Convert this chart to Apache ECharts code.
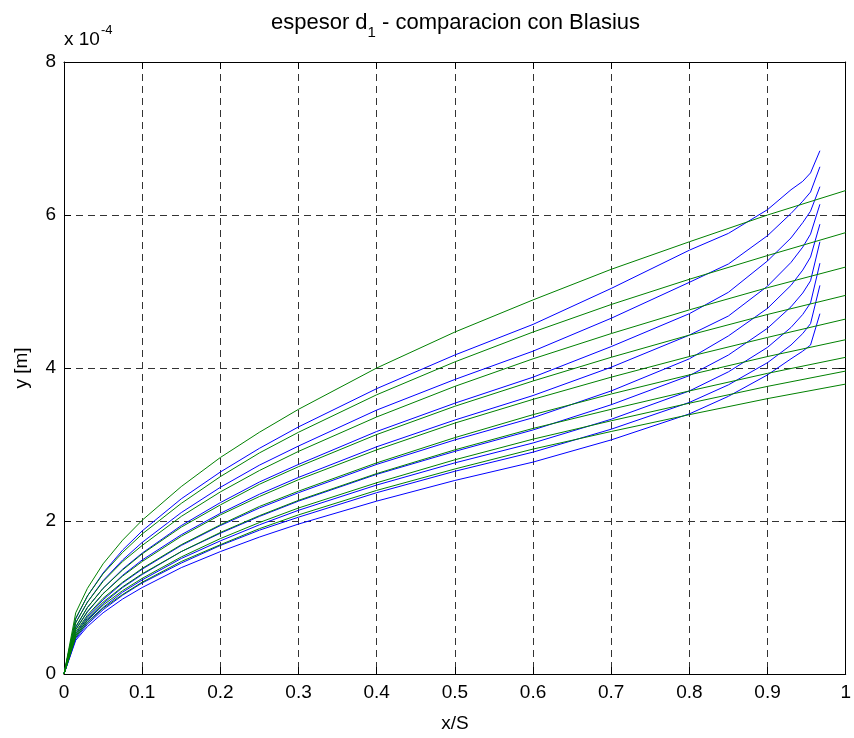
<!DOCTYPE html>
<html>
<head>
<meta charset="utf-8">
<script src="https://cdn.jsdelivr.net/npm/echarts@6/dist/echarts.min.js"></script>
<style>
  html, body { margin: 0; padding: 0; background: #ffffff; }
  #chart { width: 854px; height: 738px; }
</style>
</head>
<body>
<div id="chart"></div>
<script>
// Boundary-layer displacement thickness d1 (units of 1e-4 m) along the plate x/S.
// Computed profiles (blue) stop at x/S = 0.967; Blasius solutions (green) run to 1.
const xComputed = [0, 0.015, 0.03, 0.05, 0.075, 0.1, 0.15, 0.2, 0.25, 0.3, 0.4, 0.5, 0.6, 0.7, 0.8, 0.85, 0.9, 0.93, 0.945, 0.955, 0.967];
const computed1 = [0, 0.72, 1.02, 1.32, 1.62, 1.87, 2.29, 2.64, 2.95, 3.23, 3.73, 4.17, 4.57, 5.04, 5.54, 5.76, 6.07, 6.33, 6.44, 6.55, 6.84];
const computed2 = [0, 0.67, 0.94, 1.22, 1.49, 1.72, 2.11, 2.44, 2.73, 2.98, 3.45, 3.85, 4.22, 4.65, 5.12, 5.36, 5.73, 6.02, 6.18, 6.30, 6.63];
const computed3 = [0, 0.61, 0.87, 1.12, 1.37, 1.58, 1.94, 2.24, 2.51, 2.74, 3.17, 3.54, 3.88, 4.28, 4.71, 4.99, 5.40, 5.70, 5.90, 6.05, 6.37];
const computed4 = [0, 0.58, 0.81, 1.05, 1.29, 1.49, 1.82, 2.10, 2.35, 2.57, 2.97, 3.32, 3.64, 4.01, 4.43, 4.68, 5.07, 5.38, 5.58, 5.75, 6.14];
const computed5 = [0, 0.53, 0.75, 0.97, 1.19, 1.37, 1.68, 1.94, 2.17, 2.37, 2.74, 3.06, 3.35, 3.70, 4.12, 4.42, 4.78, 5.08, 5.28, 5.45, 5.88];
const computed6 = [0, 0.50, 0.71, 0.92, 1.13, 1.30, 1.60, 1.84, 2.06, 2.26, 2.61, 2.91, 3.19, 3.52, 3.90, 4.17, 4.52, 4.80, 4.98, 5.14, 5.65];
const computed7 = [0, 0.48, 0.68, 0.87, 1.07, 1.23, 1.51, 1.74, 1.95, 2.14, 2.47, 2.76, 3.02, 3.33, 3.70, 3.95, 4.27, 4.53, 4.70, 4.85, 5.37];
const computed8 = [0, 0.46, 0.65, 0.84, 1.03, 1.19, 1.45, 1.68, 1.88, 2.05, 2.37, 2.65, 2.90, 3.20, 3.55, 3.78, 4.07, 4.30, 4.45, 4.58, 5.08];
const computed9 = [0, 0.44, 0.62, 0.80, 0.98, 1.13, 1.39, 1.60, 1.79, 1.96, 2.26, 2.53, 2.77, 3.06, 3.40, 3.63, 3.91, 4.12, 4.22, 4.30, 4.71];

const xBlasius = [0, 0.015, 0.03, 0.05, 0.075, 0.1, 0.15, 0.2, 0.25, 0.3, 0.4, 0.5, 0.6, 0.7, 0.8, 0.9, 1.0];
const blasius1 = [0, 0.80, 1.12, 1.44, 1.75, 2.01, 2.45, 2.83, 3.16, 3.46, 4.00, 4.47, 4.89, 5.29, 5.65, 6.00, 6.32];
const blasius2 = [0, 0.73, 1.02, 1.31, 1.59, 1.83, 2.23, 2.58, 2.89, 3.16, 3.65, 4.08, 4.47, 4.83, 5.16, 5.47, 5.77];
const blasius3 = [0, 0.67, 0.94, 1.21, 1.47, 1.68, 2.06, 2.38, 2.66, 2.91, 3.36, 3.76, 4.12, 4.45, 4.76, 5.05, 5.32];
const blasius4 = [0, 0.62, 0.87, 1.12, 1.36, 1.57, 1.92, 2.21, 2.48, 2.71, 3.13, 3.50, 3.83, 4.14, 4.43, 4.70, 4.95];
const blasius5 = [0, 0.58, 0.82, 1.05, 1.28, 1.47, 1.80, 2.08, 2.32, 2.54, 2.93, 3.28, 3.59, 3.88, 4.15, 4.40, 4.64];
const blasius6 = [0, 0.55, 0.77, 0.99, 1.20, 1.38, 1.69, 1.95, 2.19, 2.39, 2.76, 3.09, 3.39, 3.66, 3.91, 4.15, 4.37];
const blasius7 = [0, 0.52, 0.73, 0.94, 1.14, 1.31, 1.60, 1.85, 2.07, 2.27, 2.62, 2.93, 3.21, 3.46, 3.70, 3.93, 4.14];
const blasius8 = [0, 0.50, 0.70, 0.90, 1.09, 1.25, 1.53, 1.77, 1.98, 2.17, 2.50, 2.80, 3.07, 3.31, 3.54, 3.76, 3.96];
const blasius9 = [0, 0.48, 0.67, 0.86, 1.04, 1.20, 1.47, 1.69, 1.90, 2.08, 2.40, 2.68, 2.94, 3.17, 3.39, 3.60, 3.79];

const xTickLabels = ['0', '0.1', '0.2', '0.3', '0.4', '0.5', '0.6', '0.7', '0.8', '0.9', '1'];
const yTickLabels = ['0', '2', '4', '6', '8'];

const computedSets = [computed1, computed2, computed3, computed4, computed5, computed6, computed7, computed8, computed9];
const blasiusSets = [blasius1, blasius2, blasius3, blasius4, blasius5, blasius6, blasius7, blasius8, blasius9];

const FONT = '"Liberation Sans", Arial, Helvetica, sans-serif';
const BLUE = '#0000ff';
const GREEN = '#008000';

const chart = echarts.init(document.getElementById('chart'), null, { renderer: 'canvas' });

function lineSeries(xs, ys, color) {
  return {
    type: 'line',
    xAxisIndex: 0,
    yAxisIndex: 0,
    data: xs.map((x, i) => [x, ys[i]]),
    showSymbol: false,
    smooth: false,
    silent: true,
    animation: false,
    lineStyle: { color: color, width: 1 },
    itemStyle: { color: color }
  };
}

const series = [];
computedSets.forEach(ys => series.push(lineSeries(xComputed, ys, BLUE)));
blasiusSets.forEach(ys => series.push(lineSeries(xBlasius, ys, GREEN)));

// text measurement for the composed title and exponent labels
const measureCtx = document.createElement('canvas').getContext('2d');
function textWidth(str, size) {
  measureCtx.font = size + 'px ' + FONT;
  return measureCtx.measureText(str).width;
}

const gridLeft = 64, gridRight = 847, gridTop = 62, gridBottom = 677;
const titleSize = 22, subSize = 15;
const tA = 'espesor d', tS = '1', tB = ' - comparacion con Blasius';
const wA = textWidth(tA, titleSize), wS = textWidth(tS, subSize), wB = textWidth(tB, titleSize);
const titleStart = (gridLeft + gridRight) / 2 - (wA + wS + wB) / 2;

const expBase = 'x 10', expSup = '-4';
const wBase = textWidth(expBase, 19);

const gridDash = { color: '#333333', width: 1, type: [7, 5] };

chart.setOption({
  backgroundColor: '#ffffff',
  animation: false,
  grid: { left: gridLeft, right: 854 - gridRight, top: gridTop, bottom: 738 - gridBottom, containLabel: false },
  xAxis: [
    {
      type: 'value', min: 0, max: 1, interval: 0.1, position: 'bottom',
      name: 'x/S', nameLocation: 'middle', nameGap: 40,
      nameTextStyle: { color: '#000', fontSize: 19, fontFamily: FONT },
      axisLine: { show: true, onZero: false, lineStyle: { color: '#000', width: 1 } },
      axisTick: { show: true, inside: true, length: 7, lineStyle: { color: '#000' } },
      axisLabel: {
        color: '#000', fontSize: 19, fontFamily: FONT, margin: 9,
        formatter: v => xTickLabels[Math.round(v * 10)]
      },
      splitLine: { show: true, lineStyle: gridDash }
    },
    {
      type: 'value', min: 0, max: 1, interval: 0.1, position: 'top',
      axisLine: { show: true, onZero: false, lineStyle: { color: '#000', width: 1 } },
      axisTick: { show: true, inside: true, length: 7, lineStyle: { color: '#000' } },
      axisLabel: { show: false },
      splitLine: { show: false }
    }
  ],
  yAxis: [
    {
      type: 'value', min: 0, max: 8, interval: 2, position: 'left',
      name: 'y [m]', nameLocation: 'middle', nameGap: 33, nameRotate: 90,
      nameTextStyle: { color: '#000', fontSize: 19, fontFamily: FONT },
      axisLine: { show: true, onZero: false, lineStyle: { color: '#000', width: 1 } },
      axisTick: { show: true, inside: true, length: 7, lineStyle: { color: '#000' } },
      axisLabel: {
        color: '#000', fontSize: 19, fontFamily: FONT, margin: 8,
        formatter: v => yTickLabels[Math.round(v / 2)]
      },
      splitLine: { show: true, lineStyle: gridDash }
    },
    {
      type: 'value', min: 0, max: 8, interval: 2, position: 'right',
      axisLine: { show: true, onZero: false, lineStyle: { color: '#000', width: 1 } },
      axisTick: { show: true, inside: true, length: 7, lineStyle: { color: '#000' } },
      axisLabel: { show: false },
      splitLine: { show: false }
    }
  ],
  graphic: [
    { type: 'text', x: titleStart, y: 23, style: { text: tA, font: titleSize + 'px ' + FONT, fill: '#000', verticalAlign: 'middle', align: 'left' } },
    { type: 'text', x: titleStart + wA, y: 33, style: { text: tS, font: subSize + 'px ' + FONT, fill: '#000', verticalAlign: 'middle', align: 'left' } },
    { type: 'text', x: titleStart + wA + wS, y: 23, style: { text: tB, font: titleSize + 'px ' + FONT, fill: '#000', verticalAlign: 'middle', align: 'left' } },
    { type: 'text', x: 64, y: 40, style: { text: expBase, font: '19px ' + FONT, fill: '#000', verticalAlign: 'middle', align: 'left' } },
    { type: 'text', x: 64 + wBase + 1, y: 30, style: { text: expSup, font: '13px ' + FONT, fill: '#000', verticalAlign: 'middle', align: 'left' } }
  ],
  series: series
});
</script>
</body>
</html>
